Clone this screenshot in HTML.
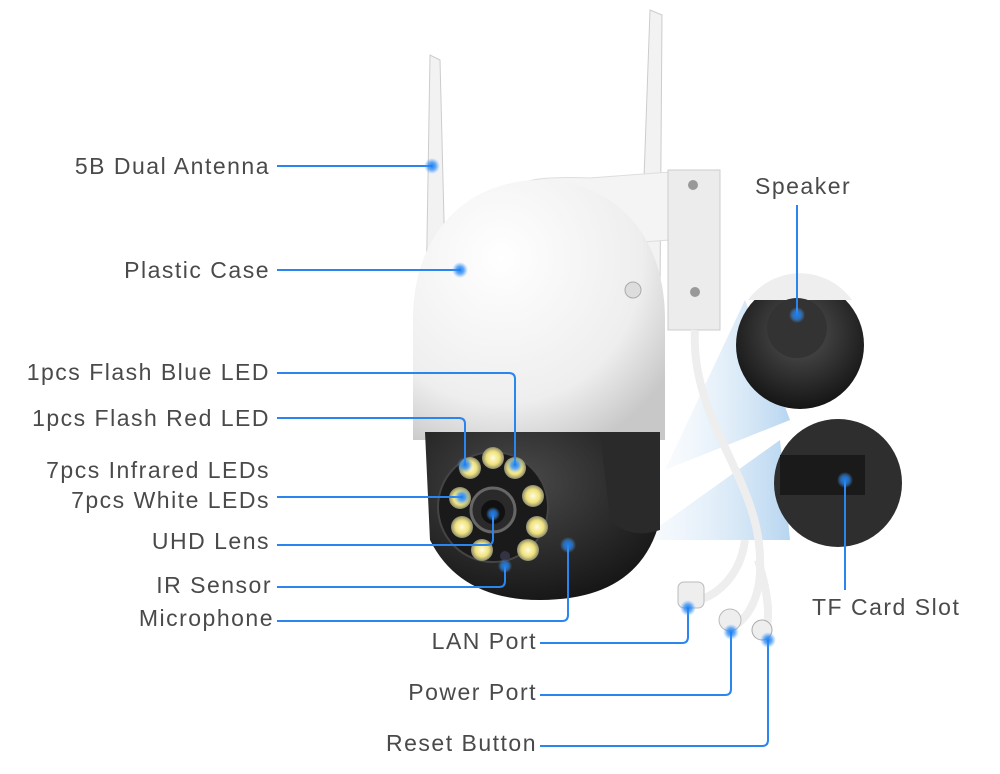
<!DOCTYPE html>
<html><head><meta charset="utf-8"><style>
html,body{margin:0;padding:0;background:#fff;}
svg{display:block}
text{font-family:"Liberation Sans",sans-serif;font-size:23px;fill:#4a4a4a;letter-spacing:1.5px}
</style></head><body>
<svg width="1000" height="774" viewBox="0 0 1000 774" xmlns="http://www.w3.org/2000/svg">
<defs>
<linearGradient id="beam" x1="0" x2="1"><stop offset="0" stop-color="#cfe3f5" stop-opacity="0.2"/><stop offset="1" stop-color="#6aa9e0" stop-opacity="0.8"/></linearGradient>
<radialGradient id="dome" cx="0.35" cy="0.3" r="0.8"><stop offset="0" stop-color="#ffffff"/><stop offset="0.7" stop-color="#eeeeee"/><stop offset="1" stop-color="#c8c8c8"/></radialGradient>
<radialGradient id="blk" cx="0.4" cy="0.3" r="0.8"><stop offset="0" stop-color="#4a4a4a"/><stop offset="1" stop-color="#111"/></radialGradient>
<radialGradient id="led" cx="0.5" cy="0.5" r="0.5"><stop offset="0" stop-color="#fffbe0"/><stop offset="0.6" stop-color="#f0e27a"/><stop offset="1" stop-color="#8a8a70"/></radialGradient>
<radialGradient id="glow"><stop offset="0" stop-color="#1c7ff0"/><stop offset="0.5" stop-color="#2a8af5" stop-opacity="0.7"/><stop offset="1" stop-color="#5aa8ff" stop-opacity="0"/></radialGradient>
<radialGradient id="insetS" cx="0.5" cy="0.4" r="0.6"><stop offset="0" stop-color="#555"/><stop offset="1" stop-color="#151515"/></radialGradient>
</defs>

<polygon points="665,470 745,300 790,420" fill="url(#beam)" opacity="0.6"/>
<polygon points="640,540 780,440 790,540" fill="url(#beam)" opacity="0.6"/>

<path d="M426,300 L430,55 L440,60 L446,300 Z" fill="#f2f2f2" stroke="#ccc"/>
<path d="M640,290 L650,10 L662,15 L660,290 Z" fill="#f2f2f2" stroke="#ccc"/>

<path d="M512,190 Q520,175 590,178 L670,172 L670,240 L600,245 L560,250 Z" fill="#f4f4f4" stroke="#ddd"/>
<rect x="668" y="170" width="52" height="160" fill="#ececec" stroke="#ccc"/>
<circle cx="693" cy="185" r="5" fill="#999"/><circle cx="695" cy="292" r="5" fill="#999"/>

<path d="M695,330 C690,420 760,480 760,560 C762,600 745,620 735,625" fill="none" stroke="#eee" stroke-width="8"/>
<path d="M745,540 C740,580 710,600 695,600" fill="none" stroke="#eee" stroke-width="8"/>
<path d="M758,560 C770,600 770,620 765,632" fill="none" stroke="#eee" stroke-width="8"/>
<rect x="678" y="582" width="26" height="26" rx="6" fill="#eee" stroke="#bbb"/>
<circle cx="730" cy="620" r="11" fill="#eee" stroke="#bbb"/>
<circle cx="762" cy="630" r="10" fill="#eee" stroke="#aaa"/>

<path d="M413,440 L413,320 C413,230 470,180 540,180 C610,180 665,230 665,320 L665,440 Z" fill="url(#dome)"/>
<circle cx="633" cy="290" r="8" fill="#ddd" stroke="#aaa"/>
<path d="M425,432 L660,432 L660,520 Q640,600 540,600 Q460,600 430,540 Z" fill="url(#blk)"/>
<path d="M600,432 L660,432 L660,530 Q630,540 610,520 Z" fill="#2a2a2a"/>
<circle cx="493" cy="507" r="55" fill="#1a1a1a" stroke="#444" stroke-width="2"/>
<g fill="url(#led)">
<circle cx="470" cy="468" r="11"/><circle cx="493" cy="458" r="11"/><circle cx="515" cy="468" r="11"/>
<circle cx="460" cy="498" r="11"/><circle cx="533" cy="496" r="11"/>
<circle cx="462" cy="527" r="11"/><circle cx="537" cy="527" r="11"/>
<circle cx="482" cy="550" r="11"/><circle cx="528" cy="550" r="11"/>
</g>
<circle cx="493" cy="510" r="22" fill="#2a2a2a" stroke="#666" stroke-width="3"/>
<circle cx="493" cy="512" r="12" fill="#111"/>
<circle cx="505" cy="556" r="5" fill="#334"/>

<circle cx="800" cy="345" r="64" fill="url(#insetS)"/>
<path d="M748,300 A64,64 0 0 1 852,300 Z" fill="#eee"/>
<circle cx="797" cy="328" r="30" fill="#333"/>
<circle cx="838" cy="483" r="64" fill="#2e2e2e"/>
<rect x="780" y="455" width="85" height="40" fill="#1a1a1a"/>

<g fill="none" stroke="#2a85ef" stroke-width="2">
<path d="M277,166 H432"/>
<path d="M277,270 H460"/>
<path d="M277,373 H509 Q515,373 515,379 V465"/>
<path d="M277,418 H459 Q465,418 465,424 V465"/>
<path d="M277,497 H462"/>
<path d="M277,545 H487 Q493,545 493,539 V515"/>
<path d="M277,587 H499 Q505,587 505,581 V566"/>
<path d="M277,621 H562 Q568,621 568,615 V545"/>
<path d="M540,643 H682 Q688,643 688,637 V608"/>
<path d="M540,695 H725 Q731,695 731,689 V632"/>
<path d="M540,746 H762 Q768,746 768,740 V640"/>
<path d="M797,205 V315"/>
<path d="M845,590 V480"/>
</g>
<g fill="url(#glow)">
<circle cx="432" cy="166" r="8"/><circle cx="460" cy="270" r="8"/><circle cx="515" cy="465" r="8"/>
<circle cx="465" cy="465" r="8"/><circle cx="462" cy="497" r="8"/><circle cx="493" cy="514" r="7"/>
<circle cx="505" cy="566" r="7"/><circle cx="568" cy="545" r="8"/><circle cx="688" cy="608" r="8"/>
<circle cx="731" cy="632" r="8"/><circle cx="768" cy="640" r="8"/><circle cx="797" cy="315" r="8"/><circle cx="845" cy="480" r="8"/>
</g>

<g text-anchor="end">
<text x="270" y="174">5B Dual Antenna</text>
<text x="270" y="278">Plastic Case</text>
<text x="270" y="380">1pcs Flash Blue LED</text>
<text x="270" y="426">1pcs Flash Red LED</text>
<text x="270" y="478">7pcs Infrared LEDs</text>
<text x="270" y="508">7pcs White LEDs</text>
<text x="270" y="549">UHD Lens</text>
<text x="272" y="593">IR Sensor</text>
<text x="274" y="626">Microphone</text>
<text x="537" y="649">LAN Port</text>
<text x="537" y="700">Power Port</text>
<text x="537" y="751">Reset Button</text>
</g>
<text x="755" y="194">Speaker</text>
<text x="812" y="615">TF Card Slot</text>
</svg>
</body></html>
